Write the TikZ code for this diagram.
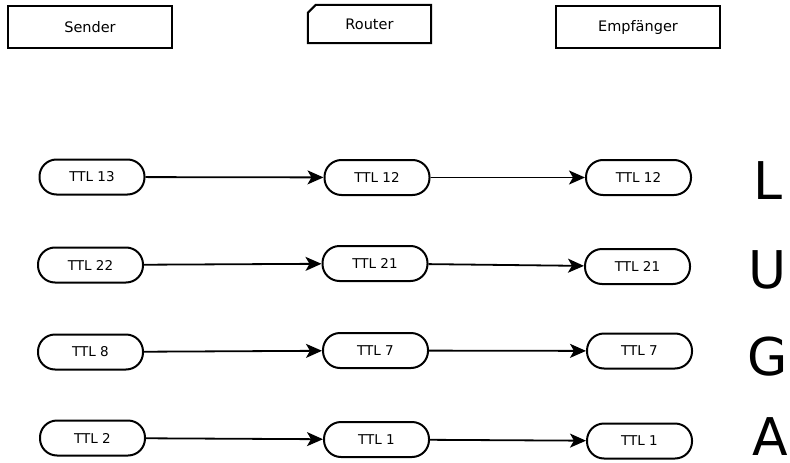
\documentclass[tikz,border=0pt]{standalone}
\usepackage{fontspec}
\setmainfont{DejaVu Sans}
\usetikzlibrary{arrows.meta}
\begin{document}
\begin{tikzpicture}[x=1pt,y=-1pt,
  hdr/.style={draw,line width=2pt,minimum width=164pt,minimum height=42pt,inner sep=0pt,font=\fontsize{14.5}{16}\selectfont},
  ttl/.style={draw,line width=2pt,rounded corners=17pt,minimum width=105pt,minimum height=35pt,inner sep=0pt,font=\fontsize{13.5}{15}\selectfont},
  arr/.style={line width=1.8pt,-{Stealth[length=16pt,width=14pt,inset=4pt]}},
  big/.style={font=\fontsize{52}{56}\selectfont,inner sep=0pt}]
\useasboundingbox (0,0) rectangle (790,463);
% headers
\node[hdr] (sender) at (90,27) {Sender};
\node[minimum width=123pt,minimum height=38pt,inner sep=0pt,font=\fontsize{14.5}{16}\selectfont] (router) at (369.5,24) {Router};
\draw[line width=2pt] ([yshift=-8pt]router.north west) -- ([xshift=8pt]router.north west) -- (router.north east) -- (router.south east) -- (router.south west) -- cycle;
\node[hdr] (empf) at (638,27) {Empfänger};
% row 1
\node[ttl] (s1) at (92,177) {TTL 13};
\node[ttl] (r1) at (377,177.5) {TTL 12};
\node[ttl] (e1) at (638.5,177.5) {TTL 12};
\node[big] (l1) at (768,180.5) {L};
% row 2
\node[ttl] (s2) at (90.5,265) {TTL 22};
\node[ttl] (r2) at (375,263.5) {TTL 21};
\node[ttl] (e2) at (637.5,266.5) {TTL 21};
\node[big] (l2) at (767.5,270) {U};
% row 3
\node[ttl] (s3) at (90.5,352) {TTL 8};
\node[ttl] (r3) at (375.5,350.5) {TTL 7};
\node[ttl] (e3) at (639.5,351) {TTL 7};
\node[big] (l3) at (768,357) {G};
% row 4
\node[ttl] (s4) at (92.5,438) {TTL 2};
\node[ttl] (r4) at (376.5,439.5) {TTL 1};
\node[ttl] (e4) at (639.5,441) {TTL 1};
\node[big] (l4) at (770,436.5) {A};
% arrows
\foreach \i in {1,2,3,4}{
  \draw[arr] (s\i) -- (r\i);
  \draw[arr] (r\i) -- (e\i);
}
\end{tikzpicture}
\end{document}
